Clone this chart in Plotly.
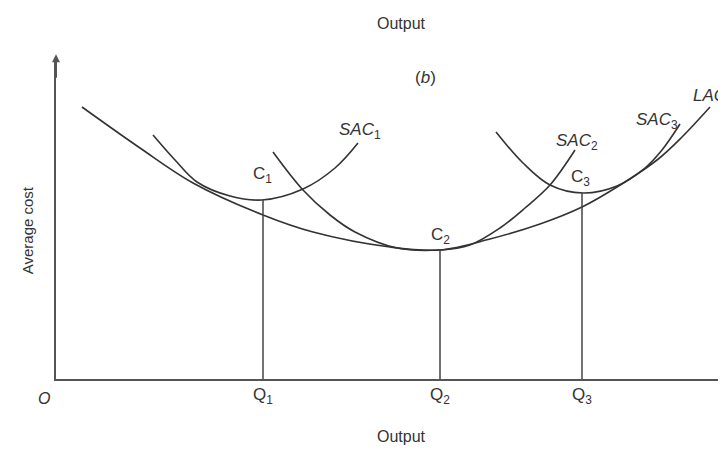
import plotly.graph_objects as go

# values (origin O = 0,0)
lac_x = [26, 84, 137, 207, 257, 334, 384, 434, 484, 526, 561, 601, 626, 654]
lac_y = [272, 231, 196, 164, 147, 132, 129, 140, 155, 172, 192, 219, 242, 272]

sac1_x = [97, 119, 141, 174, 206, 247, 279, 302]
sac1_y = [244, 219, 197, 183, 179, 190, 211, 236]

sac2_x = [217, 247, 274, 299, 341, 384, 414, 444, 469, 494, 519]
sac2_y = [227, 189, 164, 147, 131, 129, 134, 151, 171, 194, 229]

sac3_x = [440, 467, 494, 527, 561, 589, 606, 624]
sac3_y = [247, 216, 194, 186, 193, 211, 229, 255]

q_vals = [207, 384, 526]  # Q1, Q2, Q3 on the output axis
c_vals = [179, 129, 186]  # cost at C1, C2, C3
q_labels = ["Q<sub>1</sub>", "Q<sub>2</sub>", "Q<sub>3</sub>"]

ink = "#333333"
fnt = "Liberation Sans, Arial, sans-serif"

fig = go.Figure()

# cost curves
for cx, cy in [(lac_x, lac_y), (sac1_x, sac1_y), (sac2_x, sac2_y), (sac3_x, sac3_y)]:
    fig.add_trace(go.Scatter(x=cx, y=cy, mode="lines", line=dict(color=ink, width=1.6, shape="spline"),
                             hoverinfo="skip"))

# drop lines from C points down to Q
for q, c in zip(q_vals, c_vals):
    fig.add_trace(go.Scatter(x=[q, q], y=[0, c], mode="lines", line=dict(color="#444444", width=1.5),
                             hoverinfo="skip"))

# labels inside the plot (data coords)
labels = [
    ("C<sub>1</sub>", 206, 204, "center"),
    ("C<sub>2</sub>", 384, 143, "center"),
    ("C<sub>3</sub>", 524, 201, "center"),
    ("<i>SAC</i><sub>1</sub>", 304, 248, "center"),
    ("<i>SAC</i><sub>2</sub>", 521, 237, "center"),
    ("<i>SAC</i><sub>3</sub>", 601, 258, "center"),
    ("<i>LAC</i>", 635, 284, "left"),
    ("(<i>b</i>)", 369, 302, "center"),
]
for txt, lx, ly, anc in labels:
    fig.add_annotation(x=lx, y=ly, text=txt, showarrow=False, xanchor=anc,
                       font=dict(family=fnt, size=17, color=ink))

# labels outside the plot area (paper coords)
outer = [
    ("Output", 0.515, 1.106, 0),
    ("Output", 0.515, -0.178, 0),
    ("<i>O</i>", -0.018, -0.062, 0),
    ("Average cost", -0.043, 0.464, -90),
]
for txt, px, py, ang in outer:
    fig.add_annotation(x=px, y=py, xref="paper", yref="paper", text=txt, textangle=ang,
                       xanchor="center", yanchor="middle", showarrow=False,
                       font=dict(family=fnt, size=16 if ang == 0 else 15, color=ink))

# arrow tip on the cost axis
fig.add_annotation(x=0, y=1.012, xref="paper", yref="paper", ax=0, ay=25, showarrow=True,
                   arrowhead=2, arrowsize=0.8, arrowwidth=2, arrowcolor="#555555", text="")

# page body has an 8px margin, so the figure is 8px smaller than the window
fig.update_layout(
    width=718, height=441,
    margin=dict(l=48, r=0, t=50, b=70),
    plot_bgcolor="white", paper_bgcolor="white",
    showlegend=False,
    xaxis=dict(range=[0, 670], showgrid=False, zeroline=False, showline=True, linecolor="#555555",
               linewidth=2, tickvals=q_vals, ticktext=q_labels, ticks="", ticklabelstandoff=-1,
               tickfont=dict(family=fnt, size=17, color=ink), fixedrange=True),
    yaxis=dict(range=[0, 321], showgrid=False, zeroline=False, showline=True, linecolor="#555555",
               linewidth=2, showticklabels=False, ticks="", fixedrange=True),
)

fig.write_html("out.html")
